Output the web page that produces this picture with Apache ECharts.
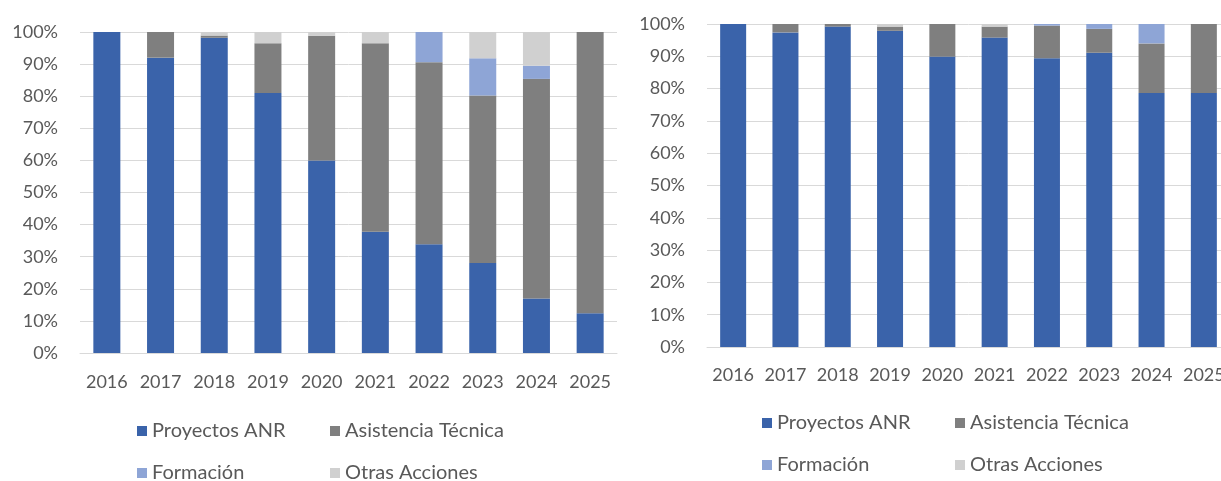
<!DOCTYPE html>
<html>
<head>
<meta charset="utf-8">
<script src="https://cdn.jsdelivr.net/npm/echarts@6/dist/echarts.min.js"></script>
<style>
html,body{margin:0;padding:0;background:#fff;overflow:hidden;}
#c{width:1240px;height:481px;}
</style>
</head>
<body>
<div id="c"></div>
<script>
const years = ['2016','2017','2018','2019','2020','2021','2022','2023','2024','2025'];
const seriesNames = ['Proyectos ANR','Asistencia Técnica','Formación','Otras Acciones'];
const yTicks = [0,10,20,30,40,50,60,70,80,90,100];

// Left chart (%)
const leftANR      = [100, 92.0, 98.2, 81.0, 60.0, 37.8, 33.9, 28.0, 17.0, 12.4];
const leftAsist    = [0,    8.0,  0.7, 15.5, 38.8, 58.7, 56.7, 52.2, 68.4, 87.6];
const leftForm     = [0,    0,    0,    0,    0,    0,    9.4, 11.6,  4.1,  0];
const leftOtras    = [0,    0,    1.1,  3.5,  1.2,  3.5,  0,    8.2, 10.5,  0];

// Right chart (%)
const rightANR     = [100, 97.4, 99.2, 97.9, 89.9, 95.8, 89.4, 91.1, 78.6, 78.6];
const rightAsist   = [0,    2.6,  0.8,  1.3, 10.1,  3.4, 10.1,  7.4, 15.4, 21.4];
const rightForm    = [0,    0,    0,    0,    0,    0,    0.5,  1.5,  6.0,  0];
const rightOtras   = [0,    0,    0,    0.8,  0,    0.8,  0,    0,    0,    0];

const colors = ['#3A63AA','#7F7F7F','#8EA5D6','#D0D0D0'];
const FONT = 'Lato';
const TXT = '#595959';

const chart = echarts.init(document.getElementById('c'), null, {renderer:'canvas'});

function xAxisCfg(gi, margin){
  return {
    type:'category', gridIndex:gi, data:years,
    axisLine:{show:true, lineStyle:{color:'#D9D9D9', width:1}},
    axisTick:{show:false},
    axisLabel:{color:TXT, fontFamily:FONT, fontSize:18, margin:margin, interval:0}
  };
}
function yAxisCfg(gi){
  return {
    type:'value', gridIndex:gi, min:0, max:100, interval:10,
    axisLine:{show:false}, axisTick:{show:false},
    splitLine:{show:true, lineStyle:{color:'#D9D9D9', width:1}},
    axisLabel:{color:TXT, fontFamily:FONT, fontSize:18, margin:22, formatter:v=>v+'%'}
  };
}
function mk(name, data, idx, color, stack, bw){
  return {
    type:'bar', name:name, data:data, xAxisIndex:idx, yAxisIndex:idx,
    stack:stack, barWidth:bw, itemStyle:{color:color},
    emphasis:{disabled:true}
  };
}
function legendCfg(left, top){
  return {
    left:left, top:top, width:390, orient:'horizontal', padding:0,
    icon:'rect', itemWidth:10, itemHeight:10, itemGap:22,
    data:seriesNames,
    textStyle:{color:TXT, fontFamily:FONT, fontSize:20, width:156, lineHeight:20}
  };
}

const leftData = [leftANR, leftAsist, leftForm, leftOtras];
const rightData = [rightANR, rightAsist, rightForm, rightOtras];
const series = [];
seriesNames.forEach((n,i)=>series.push(mk(n, leftData[i], 0, colors[i], 'L', 27)));
seriesNames.forEach((n,i)=>series.push(mk(n, rightData[i], 1, colors[i], 'R', 26)));

chart.setOption({
  animation:false,
  color:colors,
  grid:[
    {left:80, top:32, width:537, height:321, containLabel:false},
    {left:707, top:24, width:523, height:323, containLabel:false}
  ],
  xAxis:[xAxisCfg(0, 20), xAxisCfg(1, 19)],
  yAxis:[yAxisCfg(0), yAxisCfg(1)],
  legend:[legendCfg(137, 421), legendCfg(762, 413)],
  series:series
});
</script>
</body>
</html>
